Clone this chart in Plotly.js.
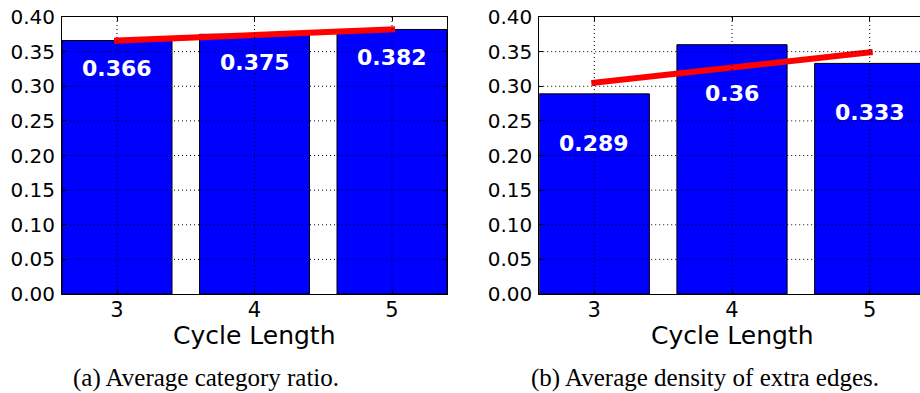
<!DOCTYPE html>
<html>
<head>
<meta charset="utf-8">
<script src="https://cdn.plot.ly/plotly-3.0.1.min.js"></script>
<style>
  html, body { margin: 0; padding: 0; overflow: hidden; background: #fff; width: 920px; height: 393px; }
  #chart { width: 930px; height: 393px; }
  .scatterlayer .js-line { stroke-linecap: square !important; }
</style>
</head>
<body>
<div id="chart"></div>
<script>
// ---- data ----
const cycleLengths = [3, 4, 5];
const categoryRatio = [0.366, 0.375, 0.382];
const extraEdgeDensity = [0.289, 0.36, 0.333];
// trend line endpoints at x = 3 and x = 5
const trendX = [3, 5];
const trendRatio = [0.366, 0.382];
const trendDensity = [0.305, 0.349];
const yTicks = [0.00, 0.05, 0.10, 0.15, 0.20, 0.25, 0.30, 0.35, 0.40];
const yTickText = ['0.00', '0.05', '0.10', '0.15', '0.20', '0.25', '0.30', '0.35', '0.40'];
const xTitle = 'Cycle Length';
const captionA = '(a) Average category ratio.';
const captionB = '(b) Average density of extra edges.';

// ---- layout geometry ----
const W = 930, H = 393;
const font = 'DejaVu Sans, sans-serif';

const traces = [
  { type: 'bar', x: cycleLengths, y: categoryRatio, width: 0.8, xaxis: 'x', yaxis: 'y',
    marker: { color: '#0000ff', line: { color: '#000', width: 1 } }, hoverinfo: 'x+y' },
  { type: 'scatter', mode: 'lines', x: trendX, y: trendRatio, xaxis: 'x', yaxis: 'y',
    line: { color: '#ff0000', width: 6 } },
  { type: 'bar', x: cycleLengths, y: extraEdgeDensity, width: 0.8, xaxis: 'x2', yaxis: 'y2',
    marker: { color: '#0000ff', line: { color: '#000', width: 1 } }, hoverinfo: 'x+y' },
  { type: 'scatter', mode: 'lines', x: trendX, y: trendDensity, xaxis: 'x2', yaxis: 'y2',
    line: { color: '#ff0000', width: 6 } }
];

function xax(domain, anchor) {
  return {
    domain: domain, anchor: anchor, range: [2.6, 5.4],
    tickvals: cycleLengths, ticktext: cycleLengths.map(String),
    showgrid: false, zeroline: false,
    showline: true, linecolor: '#000', linewidth: 1, mirror: 'ticks',
    ticks: 'inside', ticklen: 4, tickwidth: 1, tickcolor: '#000', ticklabelstandoff: -3,
    tickfont: { family: font, size: 21, color: '#000' }, fixedrange: true
  };
}
function yax(anchor) {
  return {
    domain: [(H - 294) / H, (H - 17) / H], anchor: anchor, range: [0, 0.40],
    tickvals: yTicks, ticktext: yTickText,
    showgrid: false, zeroline: false,
    showline: true, linecolor: '#000', linewidth: 1, mirror: 'ticks',
    ticks: 'inside', ticklen: 4, tickwidth: 1, tickcolor: '#000', ticklabelstandoff: 2,
    tickfont: { family: font, size: 20, color: '#000' }, fixedrange: true
  };
}

const shapes = [];
[['x', 'y'], ['x2', 'y2']].forEach(([xa, ya]) => {
  yTicks.slice(1, -1).forEach(v => shapes.push({
    type: 'line', layer: 'above', xref: xa + ' domain', yref: ya,
    x0: 0, x1: 1, y0: v, y1: v, line: { color: '#000', width: 1, dash: '1px,3px' }
  }));
  cycleLengths.forEach(v => shapes.push({
    type: 'line', layer: 'above', xref: xa, yref: ya + ' domain',
    x0: v, x1: v, y0: 0, y1: 1, line: { color: '#000', width: 1, dash: '1px,3px' }
  }));
});

const annotations = [];
function barLabels(vals, xa, ya, offset) {
  vals.forEach((v, i) => annotations.push({
    xref: xa, yref: ya, x: cycleLengths[i], y: v - offset, text: '<b>' + String(v) + '</b>',
    showarrow: false, xanchor: 'center', yanchor: 'middle',
    font: { family: font, size: 22, color: '#fff' }
  }));
}
barLabels(categoryRatio, 'x', 'y', 0.041);
barLabels(extraEdgeDensity, 'x2', 'y2', 0.071);

['x', 'x2'].forEach(xa => annotations.push({
  xref: xa + ' domain', yref: 'paper', x: 0.5, y: (H - 335) / H, text: xTitle,
  showarrow: false, xanchor: 'center', yanchor: 'middle',
  font: { family: font, size: 25, color: '#000' }
}));
annotations.push({
  xref: 'paper', yref: 'paper', x: 206 / W, y: (H - 378) / H, text: captionA,
  showarrow: false, xanchor: 'center', yanchor: 'middle',
  font: { family: 'Liberation Serif, serif', size: 25, color: '#000' }
});
annotations.push({
  xref: 'paper', yref: 'paper', x: 705 / W, y: (H - 378) / H, text: captionB,
  showarrow: false, xanchor: 'center', yanchor: 'middle',
  font: { family: 'Liberation Serif, serif', size: 25, color: '#000' }
});

const layout = {
  width: W, height: H,
  margin: { l: 0, r: 0, t: 0, b: 0, pad: 0 },
  paper_bgcolor: '#fff', plot_bgcolor: '#fff',
  showlegend: false,
  xaxis: xax([62 / W, 447 / W], 'y'),
  yaxis: yax('x'),
  xaxis2: xax([539.2 / W, 924.8 / W], 'y2'),
  yaxis2: yax('x2'),
  shapes: shapes,
  annotations: annotations,
  font: { family: font, color: '#000' }
};

Plotly.newPlot('chart', traces, layout, { displayModeBar: false, staticPlot: true });
</script>
</body>
</html>
